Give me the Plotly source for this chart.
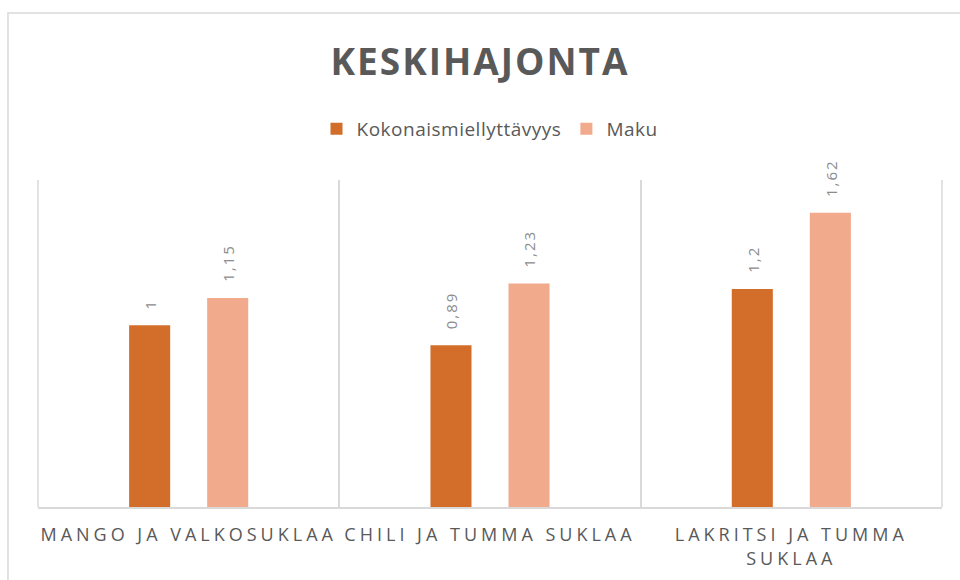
import plotly.graph_objects as go

categories = ["MANGO JA VALKOSUKLAA", "CHILI JA TUMMA SUKLAA", "LAKRITSI JA TUMMA SUKLAA"]
tick_labels = ["MANGO JA VALKOSUKLAA", "CHILI JA TUMMA SUKLAA", "LAKRITSI JA TUMMA<br>SUKLAA"]
series_names = ["Kokonaismiellyttävyys", "Maku"]
kokonais = [1.0, 0.89, 1.2]
maku = [1.15, 1.23, 1.62]
title_text = "KESKIHAJONTA"

colors = ["#D36E2A", "#F2AA8C"]
FONT = "Open Sans"
GREY = "#595959"
LINE = "#D9D9D9"


def fmt(v):
    return f"{v:g}".replace(".", ",")


def spaced(t, px):
    return f'<span style="letter-spacing:{px}px">{t}</span>'


fig = go.Figure()
for name, vals, col in zip(series_names, [kokonais, maku], colors):
    fig.add_trace(go.Bar(
        x=categories, y=vals, name=spaced(name, 0.5),
        marker=dict(color=col, line=dict(width=0)),
        hoverinfo="skip",
    ))

annotations = []
for vals, shift in zip([kokonais, maku], [-39, 39]):
    for c, v in zip(categories, vals):
        annotations.append(dict(
            x=c, y=v, xref="x", yref="y", text=spaced(fmt(v), 2),
            showarrow=False, textangle=-90, xshift=shift, yshift=14,
            xanchor="center", yanchor="bottom",
            font=dict(family=FONT, size=15, color="#8C8C8C"),
        ))

shapes = [dict(type="rect", xref="paper", yref="paper",
               x0=-0.0332, x1=1.1, y0=-0.5, y1=1.511,
               line=dict(color=LINE, width=1.5), fillcolor="rgba(0,0,0,0)",
               layer="below")]
for xp in (0, 1):
    shapes.append(dict(type="line", xref="paper", yref="paper",
                       x0=xp, x1=xp, y0=0, y1=1,
                       line=dict(color=LINE, width=1.5), layer="below"))

fig.update_layout(
    width=960, height=580,
    margin=dict(l=38, r=18, t=180, b=73, autoexpand=False),
    paper_bgcolor="white", plot_bgcolor="white",
    title=dict(text=spaced(title_text, 2), x=0.5, xanchor="center",
               y=1 - 62 / 580, yanchor="middle",
               font=dict(family=FONT, size=37, color=GREY, weight="bold")),
    legend=dict(orientation="h", x=0.5, xanchor="center", y=1.156, yanchor="middle",
                font=dict(family=FONT, size=19, color=GREY), itemwidth=30,
                traceorder="normal"),
    barmode="group", bargap=0.482, bargroupgap=0.474,
    xaxis=dict(
        type="category", categoryorder="array", categoryarray=categories,
        tickvals=categories, ticktext=[spaced(t, 4) for t in tick_labels],
        tickangle=0, automargin=False, ticklabelstandoff=11,
        tickson="boundaries", ticks="", showgrid=True, gridcolor=LINE, gridwidth=1.5,
        showline=True, linecolor=LINE, linewidth=1.5,
        tickfont=dict(family=FONT, size=18, color=GREY),
        fixedrange=True,
    ),
    yaxis=dict(range=[0, 1.8], visible=False, fixedrange=True, automargin=False),
    annotations=annotations,
    shapes=shapes,
    showlegend=True,
)

fig.write_html("out.html")
